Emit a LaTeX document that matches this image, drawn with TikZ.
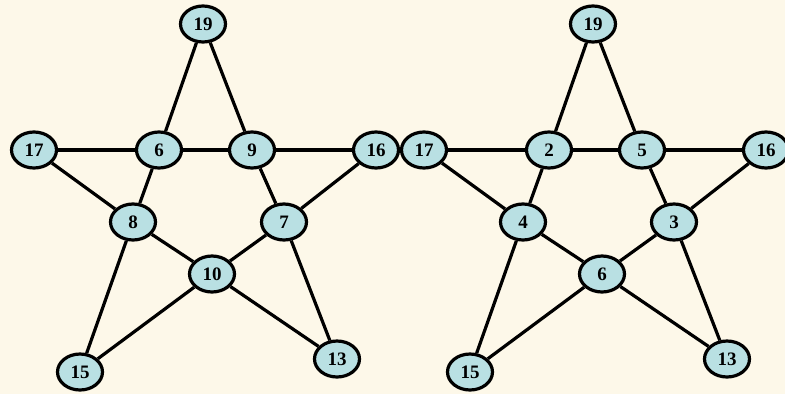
\documentclass[tikz,border=0pt]{standalone}
\usepackage{fontspec}
\setmainfont{Liberation Serif}
\usetikzlibrary{shapes.geometric}
\definecolor{paper}{HTML}{FDF8E9}
\definecolor{nodefill}{HTML}{B9E0E3}
\tikzset{
  vert/.style={ellipse, draw=black, line width=3.2pt, fill=nodefill,
    minimum width=45pt, minimum height=36pt, inner sep=0pt,
    font=\fontsize{19}{19}\selectfont\bfseries},
  edge/.style={line width=3.2pt, draw=black}
}
\begin{document}
\begin{tikzpicture}[x=1pt, y=-1pt]
  \fill[paper] (0,0) rectangle (785,394);
  \useasboundingbox (0,0) rectangle (785,394);
  % left pentagram
  \node[vert] (a19) at (203,24) {19};
  \node[vert] (a17) at (34,150) {17};
  \node[vert] (a6)  at (159,150) {6};
  \node[vert] (a9)  at (252,150) {9};
  \node[vert] (a16) at (376,150) {16};
  \node[vert] (a8)  at (133,222) {8};
  \node[vert] (a7)  at (284,222) {7};
  \node[vert] (a10) at (212,274) {10};
  \node[vert] (a15) at (80,372) {15};
  \node[vert] (a13) at (337,359) {13};
  % right pentagram
  \node[vert] (b19) at (593,24) {19};
  \node[vert] (b17) at (424,150) {17};
  \node[vert] (b2)  at (549,150) {2};
  \node[vert] (b5)  at (642,150) {5};
  \node[vert] (b16) at (766,150) {16};
  \node[vert] (b4)  at (523,222) {4};
  \node[vert] (b3)  at (674,222) {3};
  \node[vert] (b6)  at (602,274) {6};
  \node[vert] (b15) at (470,372) {15};
  \node[vert] (b13) at (727,359) {13};
  % edges of the left pentagram
  \draw[edge] (a19) -- (a6);  \draw[edge] (a19) -- (a9);
  \draw[edge] (a17) -- (a6);  \draw[edge] (a6) -- (a9);  \draw[edge] (a9) -- (a16);
  \draw[edge] (a17) -- (a8);  \draw[edge] (a6) -- (a8);
  \draw[edge] (a9) -- (a7);   \draw[edge] (a16) -- (a7);
  \draw[edge] (a8) -- (a10);  \draw[edge] (a7) -- (a10);
  \draw[edge] (a8) -- (a15);  \draw[edge] (a10) -- (a15);
  \draw[edge] (a7) -- (a13);  \draw[edge] (a10) -- (a13);
  % edges of the right pentagram
  \draw[edge] (b19) -- (b2);  \draw[edge] (b19) -- (b5);
  \draw[edge] (b17) -- (b2);  \draw[edge] (b2) -- (b5);  \draw[edge] (b5) -- (b16);
  \draw[edge] (b17) -- (b4);  \draw[edge] (b2) -- (b4);
  \draw[edge] (b5) -- (b3);   \draw[edge] (b16) -- (b3);
  \draw[edge] (b4) -- (b6);   \draw[edge] (b3) -- (b6);
  \draw[edge] (b4) -- (b15);  \draw[edge] (b6) -- (b15);
  \draw[edge] (b3) -- (b13);  \draw[edge] (b6) -- (b13);
\end{tikzpicture}
\end{document}
